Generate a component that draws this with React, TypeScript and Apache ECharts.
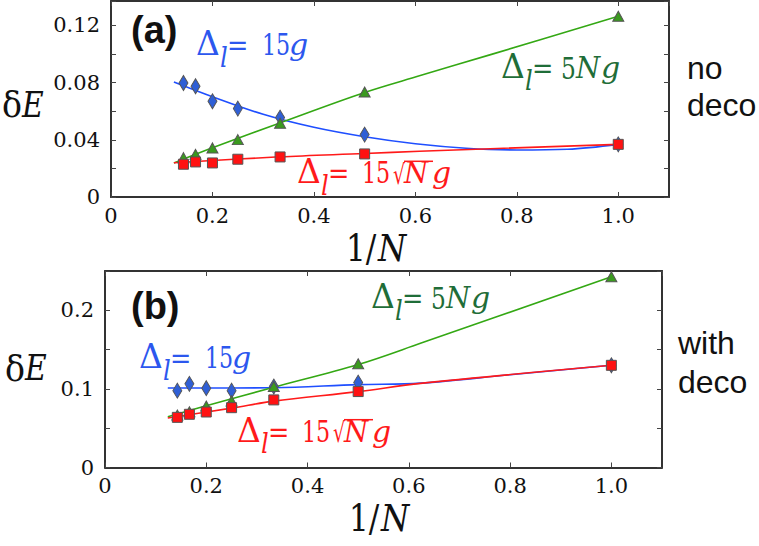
import React, { useEffect, useRef } from "react";
import * as echarts from "echarts";

// x = 1/N for N = 7,6,5,4,3,2,1
const invN = [1 / 7, 1 / 6, 1 / 5, 1 / 4, 1 / 3, 1 / 2, 1];
const xTickLabels = ["0", "0.2", "0.4", "0.6", "0.8", "1.0"];
const yTickLabelsA = ["0", "0.04", "0.08", "0.12"];
const yTickLabelsB = ["0", "0.1", "0.2"];

// panel (a): no deco
const blueA = [0.0797, 0.0774, 0.0669, 0.0618, 0.0555, 0.0436, 0.0368];
const greenA = [0.0275, 0.0298, 0.0343, 0.0401, 0.0515, 0.0734, 0.1263];
const redA = [0.0229, 0.0245, 0.0238, 0.0264, 0.028, 0.0301, 0.0368];

const blueFitAx = [0.124, 0.2, 0.3, 0.4, 0.5, 0.6, 0.7, 0.8, 0.9, 1.0];
const blueFitAy = [0.0804, 0.0701, 0.0578, 0.0487, 0.0421, 0.0372, 0.0341, 0.0329, 0.0334, 0.0368];
const greenFitAx = [0.124, 0.2, 0.333, 0.5, 0.608, 0.75, 1.0];
const greenFitAy = [0.0238, 0.0344, 0.0518, 0.0731, 0.0847, 0.0997, 0.1263];
const redFitAx = [0.124, 0.333, 0.5, 0.608, 1.0];
const redFitAy = [0.0239, 0.0281, 0.0304, 0.032, 0.0368];

// panel (b): with deco
const blueB = [0.0978, 0.1064, 0.1009, 0.0978, 0.103, 0.108, 0.13];
const greenB = [0.0668, 0.071, 0.0783, 0.0847, 0.103, 0.132, 0.2427];
const redB = [0.0638, 0.0677, 0.0706, 0.0761, 0.086, 0.0966, 0.13];

const blueFitBx = [0.124, 0.25, 0.333, 0.5, 0.623, 0.8, 1.0];
const blueFitBy = [0.1012, 0.1012, 0.1015, 0.1055, 0.1073, 0.118, 0.13];
const greenFitBx = [0.124, 0.2, 0.333, 0.5, 0.623, 1.0];
const greenFitBy = [0.0645, 0.0786, 0.102, 0.131, 0.158, 0.2427];
const redFitBx = [0.124, 0.25, 0.333, 0.5, 0.623, 1.0];
const redFitBy = [0.063, 0.0755, 0.0845, 0.0965, 0.107, 0.13];

const BLUE_LINE = "#1f4fff";
const GREEN_LINE = "#34a814";
const RED_LINE = "#ff1a1a";
const BLUE_TXT = "#2c57ee";
const GREEN_TXT = "#1f6d38";
const RED_TXT = "#ff1a1a";

const SERIF = "DejaVu Serif";
const SANS = "Liberation Sans";

const pairs = (xs: number[], ys: number[]) => xs.map((x, i) => [x, ys[i]]);

const fmt = (labels: string[], step: number) => (v: number) => {
  const k = v / step;
  const r = Math.round(k);
  return Math.abs(k - r) < 1e-6 && r >= 0 && r < labels.length ? labels[r] : "";
};

const axisLine = { show: true, onZero: false, lineStyle: { color: "#333", width: 2 } };
const axisTick = { show: true, inside: true, length: 5, lineStyle: { color: "#444", width: 1 } };
const tickFont = { fontFamily: SERIF, fontSize: 21, color: "#111" };

function xAx(grid: number, position: string, show: boolean) {
  return {
    type: "value",
    gridIndex: grid,
    position,
    min: 0,
    max: 1.1,
    interval: 0.2,
    axisLine,
    axisTick,
    splitLine: { show: false },
    axisLabel: show
      ? { show: true, formatter: fmt(xTickLabels, 0.2), ...tickFont, margin: 8, showMaxLabel: false }
      : { show: false },
  };
}

function yAx(grid: number, position: string, show: boolean, max: number, interval: number, labels: string[], step: number) {
  return {
    type: "value",
    gridIndex: grid,
    position,
    min: 0,
    max,
    interval,
    axisLine,
    axisTick,
    splitLine: { show: false },
    axisLabel: show ? { show: true, formatter: fmt(labels, step), ...tickFont, margin: 11 } : { show: false },
  };
}

function fitLine(name: string, xs: number[], ys: number[], color: string, ax: number) {
  return {
    name,
    type: "line",
    xAxisIndex: ax,
    yAxisIndex: ax,
    data: pairs(xs, ys),
    showSymbol: false,
    smooth: 0.35,
    lineStyle: { color, width: 1.6 },
    z: 2,
    silent: true,
  };
}

function marks(name: string, ys: number[], symbol: string, size: any, color: string, ax: number) {
  return {
    name,
    type: "scatter",
    xAxisIndex: ax,
    yAxisIndex: ax,
    data: pairs(invN, ys),
    symbol,
    symbolSize: size,
    itemStyle: { color, borderColor: "#555", borderWidth: 1, opacity: 1 },
    z: 3,
  };
}

// one text piece placed by its alphabetic baseline (svg text uses the central baseline)
function piece(
  text: string,
  x: number,
  base: number,
  size: number,
  color: string,
  opts: { italic?: boolean; family?: string; bold?: boolean; sx?: number } = {}
) {
  const family = opts.family || SERIF;
  const c = family === SERIF ? 0.346 : 0.3465;
  return {
    type: "text",
    x,
    y: base - c * size,
    scaleX: opts.sx || 1,
    silent: true,
    style: {
      text,
      fontFamily: family,
      fontSize: size,
      fontStyle: opts.italic ? "italic" : "normal",
      fontWeight: opts.bold ? "bold" : "normal",
      fill: color,
      align: "left",
      verticalAlign: "middle",
    },
  };
}

function deltaPieces(x0: number, b: number, color: string) {
  return [
    piece("\u0394", x0 - 1, b, 33, color, { sx: 1.0 }),
    piece("l", x0 + 23, b + 11.5, 27, color, { italic: true, sx: 0.9 }),
    piece("=", x0 + 30, b, 30, color, { sx: 0.85 }),
  ];
}
function label15g(x0: number, b: number, color: string) {
  return [
    ...deltaPieces(x0, b, color),
    piece("15", x0 + 65, b, 30, color, { sx: 0.74 }),
    piece("g", x0 + 92, b, 30, color, { italic: true, sx: 1.0 }),
  ];
}
function label5Ng(x0: number, b: number, color: string) {
  return [
    ...deltaPieces(x0, b, color),
    piece("5", x0 + 59, b, 30, color, { sx: 0.78 }),
    piece("N", x0 + 74, b, 30, color, { italic: true, sx: 0.92 }),
    piece("g", x0 + 99, b, 30, color, { italic: true, sx: 1.0 }),
  ];
}
function label15sqrt(x0: number, b: number, color: string) {
  return [
    ...deltaPieces(x0, b, color),
    piece("15", x0 + 64, b, 30, color, { sx: 0.74 }),
    piece("\u221A", x0 + 95, b, 27, color, { sx: 0.7 }),
    piece("N", x0 + 106, b, 30, color, { italic: true, sx: 0.92 }),
    piece("g", x0 + 134, b, 30, color, { italic: true, sx: 1.0 }),
    {
      type: "line",
      silent: true,
      shape: { x1: x0 + 106, y1: b - 22, x2: x0 + 135, y2: b - 22 },
      style: { stroke: color, lineWidth: 1.5 },
    },
  ];
}

function deltaE(x: number, b: number) {
  return [
    piece("\u03B4", x, b, 35, "#111", { sx: 0.95 }),
    piece("E", x + 20, b, 35, "#111", { italic: true, sx: 0.85 }),
  ];
}
function invNLabel(x: number, b: number) {
  return [
    piece("1/", x, b, 38, "#111", { sx: 0.82 }),
    piece("N", x + 32, b, 38, "#111", { italic: true, sx: 0.85 }),
  ];
}

export default function App() {
  const ref = useRef<HTMLDivElement>(null);
  useEffect(() => {
    document.body.style.margin = "0";
    if (!ref.current) return;
    const chart = echarts.init(ref.current, undefined, { renderer: "svg" });
    const option: any = {
      animation: false,
      backgroundColor: "#fff",
      grid: [
        { left: 111, top: 1, width: 558, height: 196 },
        { left: 105, top: 271, width: 557, height: 196.5 },
      ],
      xAxis: [xAx(0, "bottom", true), xAx(0, "top", false), xAx(1, "bottom", true), xAx(1, "top", false)],
      yAxis: [
        yAx(0, "left", true, 0.137, 0.02, yTickLabelsA, 0.04),
        yAx(0, "right", false, 0.137, 0.02, yTickLabelsA, 0.04),
        yAx(1, "left", true, 0.25, 0.05, yTickLabelsB, 0.1),
        yAx(1, "right", false, 0.25, 0.05, yTickLabelsB, 0.1),
      ],
      series: [
        fitLine("fit 15g (a)", blueFitAx, blueFitAy, BLUE_LINE, 0),
        fitLine("fit 5Ng (a)", greenFitAx, greenFitAy, GREEN_LINE, 0),
        fitLine("fit 15sqrtNg (a)", redFitAx, redFitAy, RED_LINE, 0),
        marks("15g (a)", blueA, "diamond", [9, 15], "#2f5fd6", 0),
        marks("5Ng (a)", greenA, "triangle", [11, 10], "#3a9a1e", 0),
        marks("15sqrtNg (a)", redA, "rect", [10, 10], "#ff1212", 0),
        fitLine("fit 15g (b)", blueFitBx, blueFitBy, BLUE_LINE, 2),
        fitLine("fit 5Ng (b)", greenFitBx, greenFitBy, GREEN_LINE, 2),
        fitLine("fit 15sqrtNg (b)", redFitBx, redFitBy, RED_LINE, 2),
        marks("15g (b)", blueB, "diamond", [9, 15], "#2f5fd6", 2),
        marks("5Ng (b)", greenB, "triangle", [11, 10], "#3a9a1e", 2),
        marks("15sqrtNg (b)", redB, "rect", [10, 10], "#ff1212", 2),
      ],
      graphic: [
        piece("(a)", 131, 43.5, 38, "#111", { family: SANS, bold: true }),
        piece("(b)", 131, 319.5, 38, "#111", { family: SANS, bold: true }),
        piece("no", 687, 79.3, 32, "#111", { family: SANS }),
        piece("deco", 687, 116, 32, "#111", { family: SANS }),
        piece("with", 678, 354.3, 32, "#111", { family: SANS }),
        piece("deco", 678, 393.3, 32, "#111", { family: SANS }),
        ...deltaE(2, 117.3),
        ...deltaE(5, 380.7),
        ...invNLabel(346, 261),
        ...invNLabel(349, 531),
        ...label15g(197, 55, BLUE_TXT),
        ...label5Ng(502, 78.3, GREEN_TXT),
        ...label15sqrt(298, 183.3, RED_TXT),
        ...label15g(140, 368.3, BLUE_TXT),
        ...label5Ng(372, 308.3, GREEN_TXT),
        ...label15sqrt(238, 441.7, RED_TXT),
      ],
    };
    chart.setOption(option);
    return () => chart.dispose();
  }, []);
  return <div ref={ref} style={{ width: 759, height: 546 }} />;
}
